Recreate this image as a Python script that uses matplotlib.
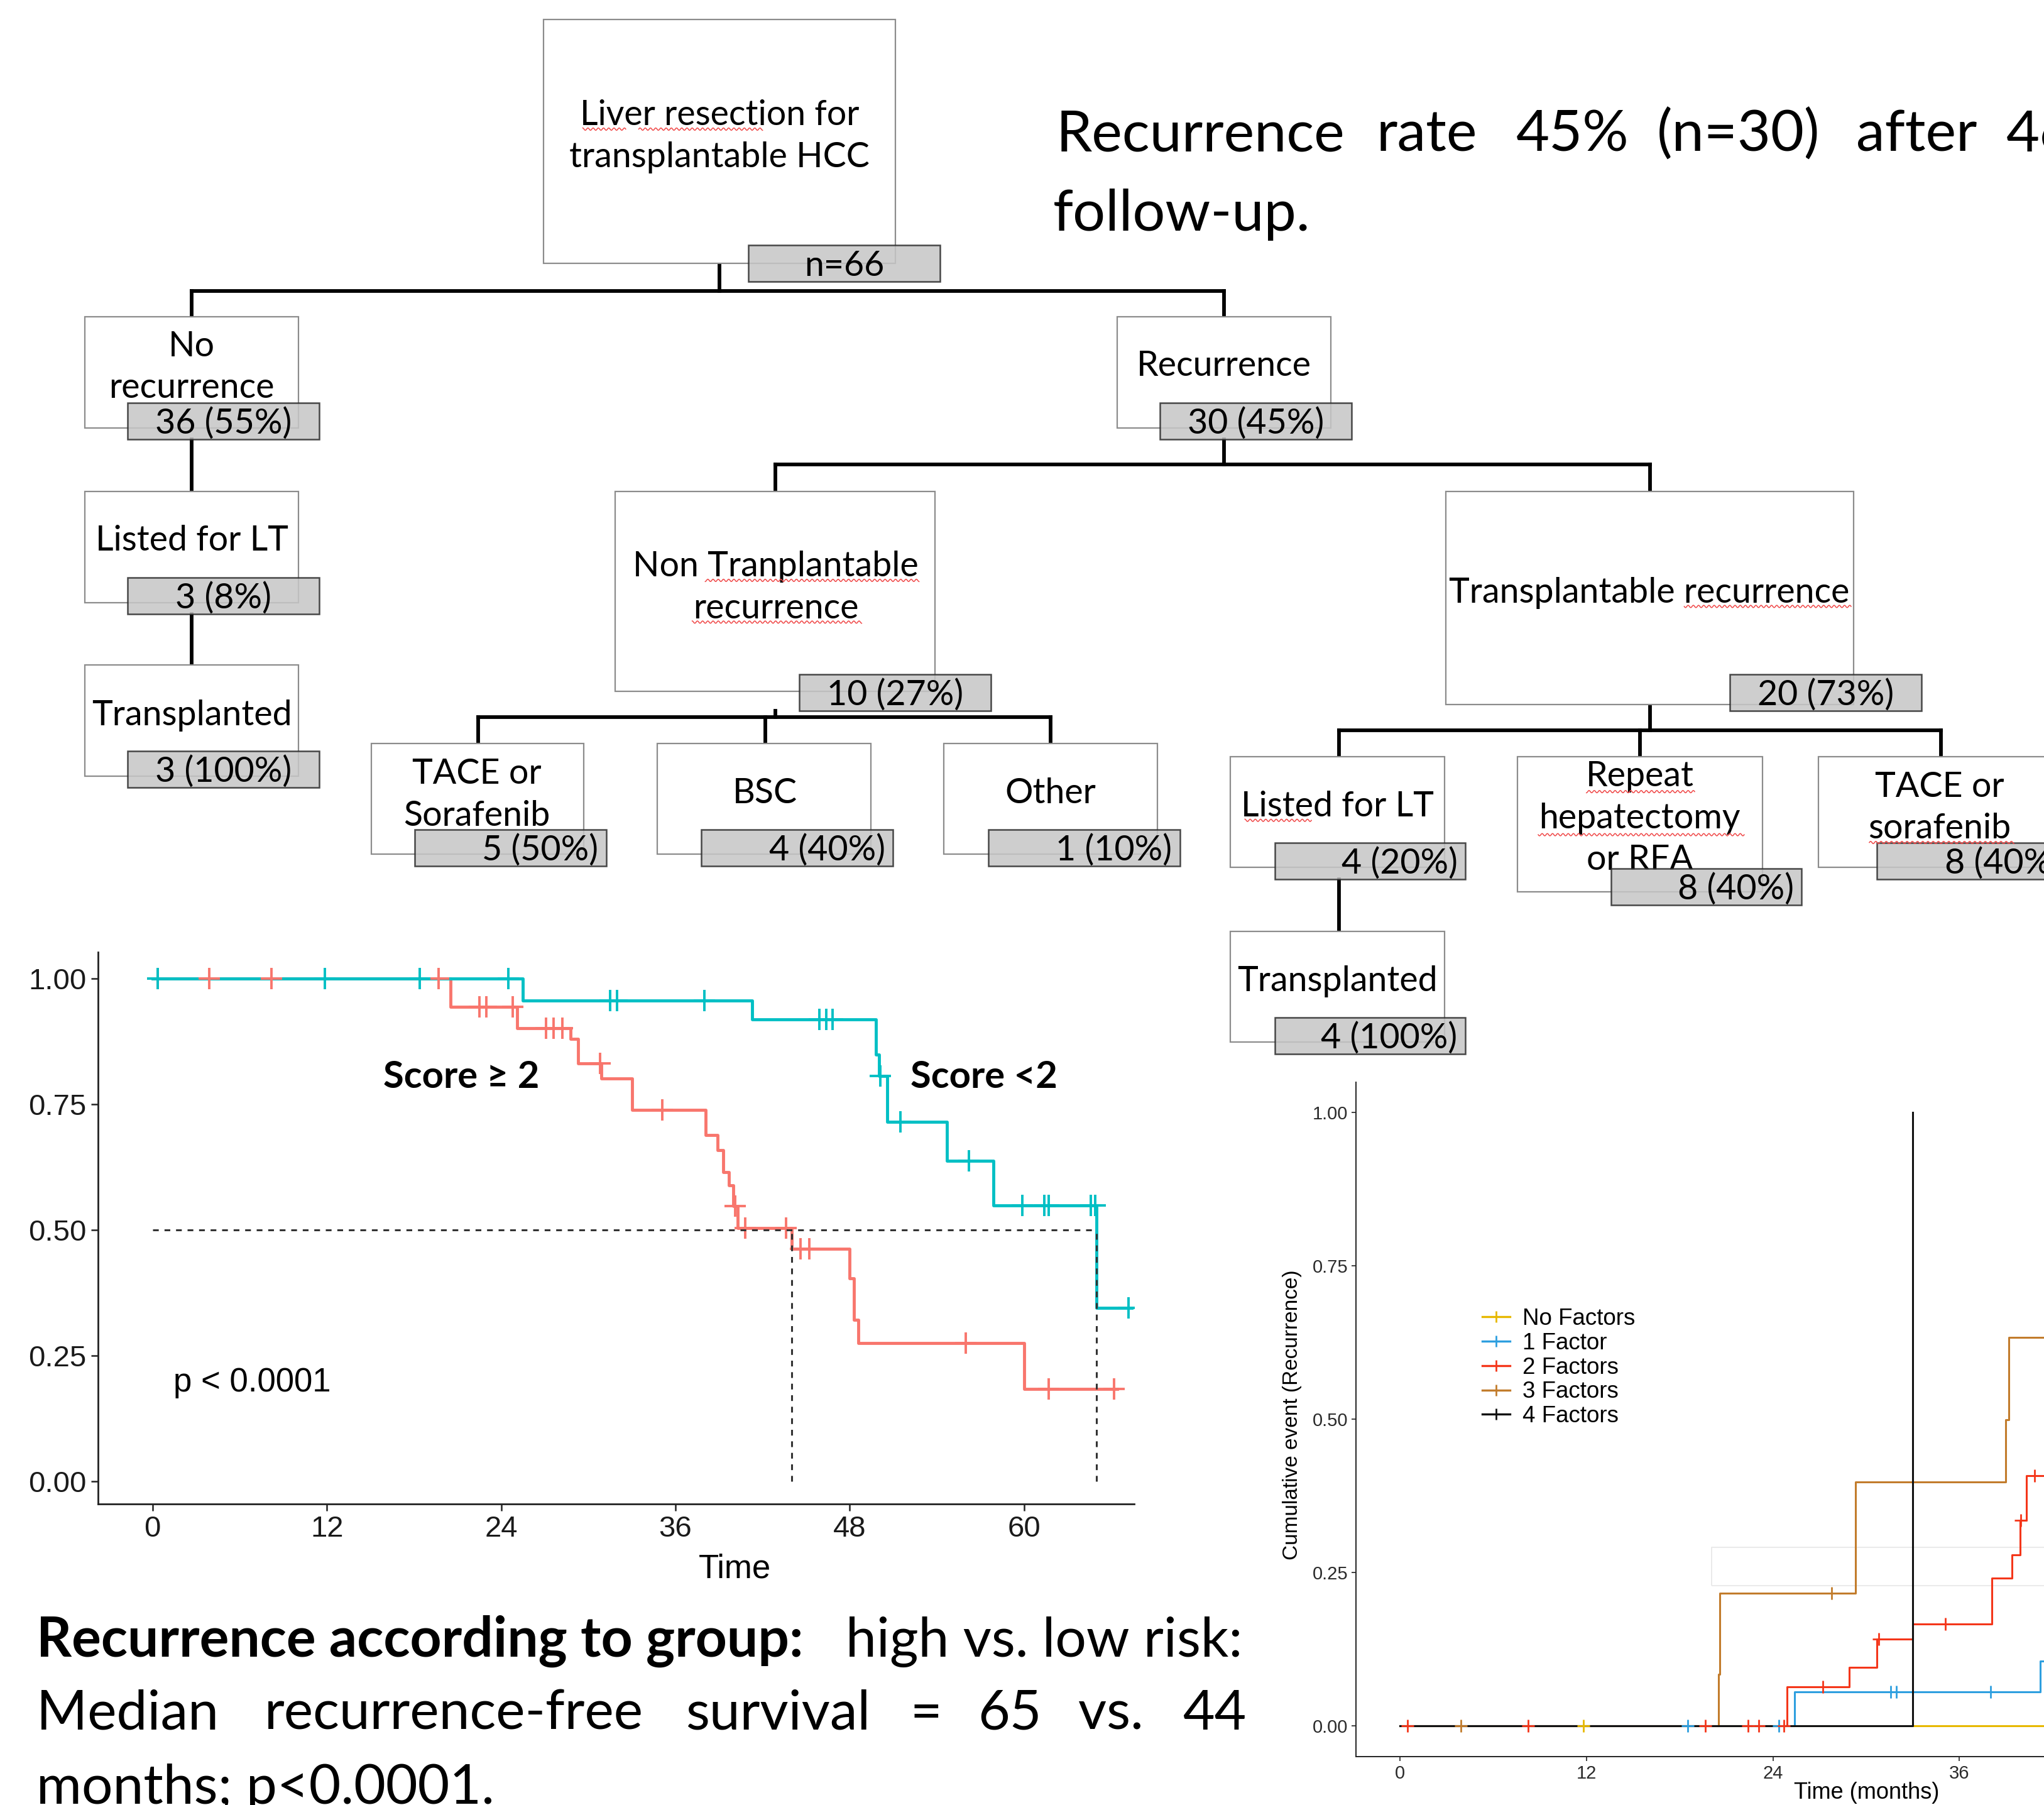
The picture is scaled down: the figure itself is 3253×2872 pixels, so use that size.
import numpy as np
import matplotlib
matplotlib.use("Agg")
import matplotlib.pyplot as plt
from matplotlib.patches import Rectangle
from matplotlib.lines import Line2D

# layout grid: the slide measured at 1568 x 1384, scaled up on save
W, H = 1568, 1384
SLIDE = ["Lato", "DejaVu Sans"]
R_FONT = ["Liberation Sans", "DejaVu Sans"]

# ---------------- flowchart ----------------
node_text = [
    ["Liver resection for", "transplantable HCC"],
    ["No", "recurrence"],
    ["Recurrence"],
    ["Listed for LT"],
    ["Transplanted"],
    ["Non Tranplantable", "recurrence"],
    ["Transplantable recurrence"],
    ["TACE or", "Sorafenib"],
    ["BSC"],
    ["Other"],
    ["Listed for LT"],
    ["Transplanted"],
    ["Repeat", "hepatectomy", "or RFA"],
    ["TACE or", "sorafenib"],
]
node_count = ["n=66", "36 (55%)", "30 (45%)", "3 (8%)", "3 (100%)", "10 (27%)",
              "20 (73%)", "5 (50%)", "4 (40%)", "1 (10%)", "4 (20%)", "4 (100%)",
              "8 (40%)", "8 (40%)"]

# box, count box, x of text centre, y of first text line, count alignment
node_layout = [
    ((417, 15, 687, 202), (574, 188, 721, 216), 552, 87, "c"),
    ((65, 243, 229, 328), (98, 309, 245, 337), 147, 264, "c"),
    ((857, 243, 1021, 328), (890, 309, 1037, 337), 939, 279, "c"),
    ((65, 377, 229, 462), (98, 443, 245, 471), 147, 413, "c"),
    ((65, 510, 229, 595), (98, 576, 245, 604), 147, 547, "c"),
    ((472, 377, 717, 530), (613, 517, 760, 545), 595, 433, "c"),
    ((1109, 377, 1422, 540), (1327, 517, 1474, 545), 1265, 453, "c"),
    ((285, 570, 448, 655), (318, 636, 465, 664), 366, 592, "r"),
    ((504, 570, 668, 655), (538, 636, 685, 664), 587, 607, "r"),
    ((724, 570, 888, 655), (758, 636, 905, 664), 806, 607, "r"),
    ((944, 580, 1108, 665), (978, 646, 1124, 674), 1026, 617, "r"),
    ((944, 714, 1108, 799), (978, 780, 1124, 808), 1026, 751, "r"),
    ((1164, 580, 1352, 684), (1236, 666, 1382, 694), 1258, 594, "r"),
    ((1395, 580, 1590, 665), (1440, 646, 1587, 674), 1488, 602, "r"),
]

connectors = [
    ((552, 202), (552, 223)), ((147, 223), (939, 223)),
    ((147, 223), (147, 243)), ((939, 223), (939, 243)),
    ((147, 337), (147, 377)), ((147, 471), (147, 510)),
    ((939, 337), (939, 356)), ((595, 356), (1266, 356)),
    ((595, 356), (595, 377)), ((1266, 356), (1266, 377)),
    ((595, 545), (595, 550)), ((367, 550), (806, 550)),
    ((367, 550), (367, 570)), ((587, 550), (587, 570)), ((806, 550), (806, 570)),
    ((1266, 540), (1266, 560)), ((1027, 560), (1489, 560)),
    ((1027, 560), (1027, 580)), ((1258, 560), (1258, 580)), ((1489, 560), (1489, 580)),
    ((1027, 674), (1027, 714)),
]

# spell-check squiggles under words (x start, x end, y)
squiggles = [(447, 480, 99), (490, 585, 99), (541, 705, 445), (531, 661, 477),
             (1292, 1420, 465), (955, 1006, 629), (1217, 1300, 607),
             (1180, 1338, 640), (1434, 1545, 646)]

# ---------------- KM: recurrence-free survival by score ----------------
low_t = [0, 25.5, 41.3, 49.8, 50.0, 50.6, 54.7, 57.9, 65.0, 67.4]
low_s = [1.0, 0.956, 0.918, 0.848, 0.806, 0.715, 0.637, 0.549, 0.345, 0.345]
low_cens = [0.35, 11.85, 18.4, 24.5, 31.5, 32.0, 38.0, 45.9, 46.4, 46.8, 50.1,
            51.5, 56.2, 59.9, 61.4, 61.7, 64.6, 64.9, 67.2]

high_t = [0, 20.5, 25.1, 28.8, 29.3, 30.9, 33.0, 38.1, 38.9, 39.3, 39.7, 40.0,
          40.3, 44.0, 48.0, 48.3, 48.6, 60.0, 66.4]
high_s = [1.0, 0.943, 0.901, 0.879, 0.831, 0.801, 0.738, 0.689, 0.659, 0.615,
          0.588, 0.548, 0.504, 0.463, 0.404, 0.322, 0.275, 0.184, 0.184]
high_cens = [0.35, 3.9, 8.2, 19.7, 22.5, 23.0, 24.8, 27.1, 27.6, 28.2, 30.8,
             35.1, 40.1, 40.8, 43.6, 44.6, 45.2, 56.0, 61.7, 66.2]

medians = [44, 65]

# ---------------- cumulative recurrence by number of factors ----------------
factor_names = ["No Factors", "1 Factor", "2 Factors", "3 Factors", "4 Factors"]
factor_t = [
    [0, 41.5],
    [0, 25.4, 41.2, 41.5],
    [0, 24.9, 28.9, 30.7, 33.0, 38.1, 39.4, 39.9, 40.3, 41.5],
    [0, 20.5, 20.6, 29.3, 39.0, 39.2, 41.5],
    [0, 33.0],
]
factor_f = [
    [0, 0],
    [0, 0.056, 0.106, 0.106],
    [0, 0.064, 0.096, 0.142, 0.166, 0.241, 0.279, 0.335, 0.408, 0.408],
    [0, 0.084, 0.217, 0.398, 0.499, 0.633, 0.633],
    [0, 1.0],
]
factor_cens = [
    [11.8],
    [18.5, 24.4, 31.6, 31.95, 38.0],
    [0.5, 8.25, 19.65, 22.4, 23.1, 24.7, 27.2, 30.8, 35.1, 39.95, 40.85],
    [3.9, 27.8],
    [],
]
factor_colors = ["#E7B800", "#2E9FDF", "#F4361A", "#C27C2C", "#111111"]


def frame(x0, y0, x1, y1):
    return [x0 / W, 1 - y1 / H, (x1 - x0) / W, (y1 - y0) / H]


def step_value(ts, vs, t):
    i = np.searchsorted(ts, t, side="right") - 1
    return np.asarray(vs)[i]


fig = plt.figure(figsize=(32.53, 28.72), dpi=100)
bg = fig.add_axes([0, 0, 1, 1])
bg.set_xlim(0, W)
bg.set_ylim(H, 0)
bg.axis("off")

for (a, b) in connectors:
    bg.plot([a[0], b[0]], [a[1], b[1]], color="black", lw=4.2,
            solid_capstyle="projecting", zorder=1)

for lines, count, (box, lab, cx, y0, al) in zip(node_text, node_count, node_layout):
    bg.add_patch(Rectangle((box[0], box[1]), box[2] - box[0], box[3] - box[1],
                           facecolor="white", edgecolor="#8C8C8C", lw=1.6, zorder=2))
    for k, ln in enumerate(lines):
        bg.text(cx, y0 + 32 * k + 9, ln, ha="center", va="baseline",
                family=SLIDE, fontsize=40, zorder=3)
    bg.add_patch(Rectangle((lab[0], lab[1]), lab[2] - lab[0], lab[3] - lab[1],
                           facecolor="#C6C6C6", alpha=0.85, edgecolor="#2B2B2B",
                           lw=1.8, zorder=4))
    ty = (lab[1] + lab[3]) / 2 + 9.5
    if al == "c":
        bg.text((lab[0] + lab[2]) / 2, ty, count, ha="center", va="baseline",
                family=SLIDE, fontsize=40, zorder=5)
    else:
        bg.text(lab[2] - 6, ty, count, ha="right", va="baseline",
                family=SLIDE, fontsize=40, zorder=5)

for (xa, xb, yy) in squiggles:
    xs = np.linspace(xa, xb, int((xb - xa) * 2))
    bg.plot(xs, yy + 0.9 * np.sin(xs * np.pi / 2.0), color="#F04848", lw=1.1, zorder=6)

# slide text
top_words = ["Recurrence", "rate", "45%", "(n=30)", "after", "46"]
top_x = [810, 1056, 1163, 1271, 1424, 1539]
for w, x in zip(top_words, top_x):
    bg.text(x, 116, w, ha="left", va="baseline", family=SLIDE, fontsize=66)
bg.text(808, 177, "follow-up.", ha="left", va="baseline", family=SLIDE, fontsize=66)

bg.text(28, 1270, "Recurrence according to group:", ha="left", va="baseline",
        family=SLIDE, fontsize=63, fontweight="bold")
bg.text(953, 1270, "high vs. low risk:", ha="right", va="baseline",
        family=SLIDE, fontsize=63)
mid_words = ["Median", "recurrence-free", "survival", "=", "65", "vs.", "44"]
mid_x = [28, 203, 526, 698, 750, 827, 907]
for w, x in zip(mid_words, mid_x):
    bg.text(x, 1326, w, ha="left", va="baseline", family=SLIDE, fontsize=63)
bg.text(28, 1383, "months; p<0.0001.", ha="left", va="baseline", family=SLIDE, fontsize=63)

# ---------------- left KM panel ----------------
ax = fig.add_axes(frame(75, 730, 870, 1153))
ax.set_facecolor("none")
teal, salmon = "#00BFC4", "#F8766D"
ax.step(high_t, high_s, where="post", color=salmon, lw=3.5)
ax.step(low_t, low_s, where="post", color=teal, lw=3.5)
ax.plot(high_cens, [step_value(high_t, high_s, t) for t in high_cens], "+",
        color=salmon, ms=25, mew=2.8)
ax.plot(low_cens, [step_value(low_t, low_s, t) for t in low_cens], "+",
        color=teal, ms=25, mew=2.8)
dash = (0, (3, 3))
ax.plot([0, max(medians)], [0.5, 0.5], color="#333333", lw=2.2, ls=dash)
for m in medians:
    ax.plot([m, m], [0, 0.5], color="#333333", lw=2.2, ls=dash)

ax.text(15.9, 0.782, "Score \u2265 2", family=SLIDE, fontsize=43, fontweight="bold",
        ha="left", va="baseline")
ax.text(52.2, 0.782, "Score <2", family=SLIDE, fontsize=43, fontweight="bold",
        ha="left", va="baseline")
ax.text(1.44, 0.197, "p < 0.0001", family=R_FONT, fontsize=38, ha="left", va="center")

ax.set_xlim(-3.77, 67.58)
ax.set_ylim(-0.044, 1.052)
ax.set_xticks([0, 12, 24, 36, 48, 60])
ax.set_yticks([0, 0.25, 0.5, 0.75, 1.0])
ax.set_yticklabels(["0.00", "0.25", "0.50", "0.75", "1.00"])
for s in ["top", "right"]:
    ax.spines[s].set_visible(False)
for s in ["left", "bottom"]:
    ax.spines[s].set_linewidth(2.0)
    ax.spines[s].set_color("#222222")
ax.tick_params(length=8, width=1.8, pad=5, labelsize=34, color="#222222",
               labelcolor="#1A1A1A")
for lab in ax.get_xticklabels() + ax.get_yticklabels():
    lab.set_family(R_FONT)
ax.set_xlabel("Time", family=R_FONT, fontsize=38)
ax.xaxis.set_label_coords(0.615, -0.09)

# ---------------- right cumulative-event panel ----------------
bx = fig.add_axes(frame(1040, 830, 1568, 1347))
bx.set_facecolor("none")
bx.add_patch(Rectangle((20.06, 0.229), 30, 0.062, facecolor="none",
                       edgecolor="#E6E6E6", lw=1.2))
for ts, fs, c in zip(factor_t, factor_f, factor_colors):
    bx.step(ts, fs, where="post", color=c, lw=2.2)
for ts, fs, cs, c in zip(factor_t, factor_f, factor_cens, factor_colors):
    if cs:
        bx.plot(cs, [step_value(ts, fs, t) for t in cs], "+", color=c, ms=14, mew=2.0)

bx.set_xlim(-2.85, 41.45)
bx.set_ylim(-0.05, 1.049)
bx.set_xticks([0, 12, 24, 36])
bx.set_yticks([0, 0.25, 0.5, 0.75, 1.0])
bx.set_yticklabels(["0.00", "0.25", "0.50", "0.75", "1.00"])
for s in ["top", "right"]:
    bx.spines[s].set_visible(False)
for s in ["left", "bottom"]:
    bx.spines[s].set_linewidth(1.4)
    bx.spines[s].set_color("#222222")
bx.tick_params(length=5, width=1.3, pad=4, labelsize=21, color="#333333",
               labelcolor="#2B2B2B")
for lab in bx.get_xticklabels() + bx.get_yticklabels():
    lab.set_family(R_FONT)
bx.set_xlabel("Time (months)", family=R_FONT, fontsize=26)
bx.xaxis.set_label_coords(0.742, -0.037)
bx.set_ylabel("Cumulative event (Recurrence)", family=R_FONT, fontsize=24)
bx.yaxis.set_label_coords(-0.078, 0.507)

handles = [Line2D([], [], color=c, lw=2.4, marker="+", ms=13, mew=2.0)
           for c in factor_colors]
leg = bx.legend(handles, factor_names, loc="upper left",
                bbox_to_anchor=(1137 / W, 1 - 1003 / H), bbox_transform=fig.transFigure,
                frameon=False, borderpad=0, borderaxespad=0, handlelength=1.2,
                handletextpad=0.55, labelspacing=0.1,
                prop={"family": R_FONT, "size": 26.5})

fig.savefig("out.png", dpi=100)
